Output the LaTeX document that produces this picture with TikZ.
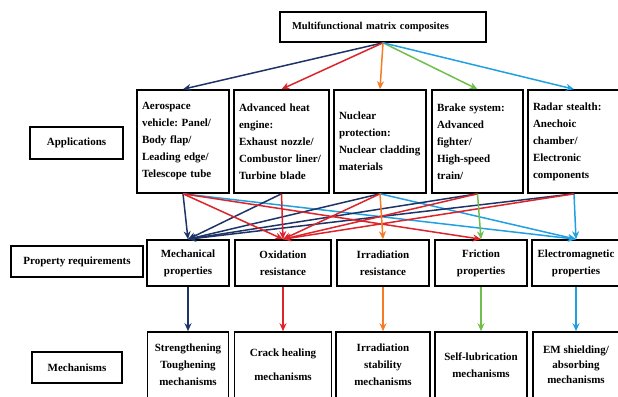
\documentclass[tikz,border=0pt]{standalone}
\usepackage{fontspec}
\setmainfont{Liberation Serif}
\usetikzlibrary{arrows.meta}
\frenchspacing

\definecolor{navyline}{RGB}{30,52,102}
\definecolor{redline}{RGB}{220,36,42}
\definecolor{orangeline}{RGB}{244,124,38}
\definecolor{greenline}{RGB}{112,190,76}
\definecolor{blueline}{RGB}{32,160,224}

\begin{document}
\begin{tikzpicture}[x=1pt, y=-1pt, >={Stealth[length=8pt,width=7pt]},
    box/.style={draw, line width=1.6pt, anchor=center, inner sep=0pt,
      font=\bfseries\fontsize{11}{17}\selectfont},
    appbox/.style={box, minimum height=103pt, align=left, inner xsep=5pt},
    propbox/.style={box, minimum height=46pt, align=center},
    mechbox/.style={box, minimum height=66pt, align=center},
    rowlabel/.style={box, minimum height=31pt, align=center},
    link/.style={->, line width=1.5pt}]
    \useasboundingbox (0,0) rectangle (618,396);

    \node (top) [box, minimum height=30pt, inner xsep=12pt, text width=182pt, align=left,
      font=\bfseries\fontsize{10.5}{13}\selectfont] at (383, 27) {Multifunctional matrix composites};

    % row labels
    \node (lapp) [rowlabel, minimum width=93pt, minimum height=32pt] at (76.5, 143) {Applications};
    \node (lprop) [rowlabel, minimum width=132pt] at (77, 261.5) {Property requirements};
    \node (lmech) [rowlabel, minimum width=90pt] at (77, 367.5) {Mechanisms};

    % applications
    \node (A1) [appbox, text width=82pt] at (183, 141.5) {Aerospace\\vehicle: Panel/\\Body flap/\\Leading edge/\\Telescope tube};
    \node (A2) [appbox, text width=85pt] at (281.5, 141.5) {Advanced heat\\engine:\\Exhaust nozzle/\\Combustor liner/\\Turbine blade};
    \node (A3) [appbox, text width=82pt] at (380, 141.5) {Nuclear\\protection:\\Nuclear cladding\\materials};
    \node (A4) [appbox, text width=81pt] at (477.5, 141.5) {Brake system:\\Advanced\\fighter/\\High-speed\\train/};
    \node (A5) [appbox, text width=82pt] at (574, 141.5) {Radar stealth:\\Anechoic\\chamber/\\Electronic\\components};

    % property requirements
    \node (P1) [propbox, minimum width=82pt] at (188, 263) {Mechanical\\properties};
    \node (P2) [propbox, minimum width=96pt] at (283, 263) {Oxidation\\resistance};
    \node (P3) [propbox, minimum width=92pt] at (383, 263) {Irradiation\\resistance};
    \node (P4) [propbox, minimum width=92pt] at (481, 263) {Friction\\properties};
    \node (P5) [propbox, minimum width=88pt] at (576, 263) {Electromagnetic\\properties};

    % mechanisms
    \node (M1) [mechbox, minimum width=81pt] at (188, 365) {Strengthening\\Toughening\\mechanisms};
    \node (M2) [mechbox, minimum width=97pt] at (283, 365) {Crack healing\\[7pt]mechanisms};
    \node (M3) [mechbox, minimum width=94pt] at (383, 365) {Irradiation\\stability\\mechanisms};
    \node (M4) [mechbox, minimum width=92pt] at (481, 365) {Self-lubrication\\mechanisms};
    \node (M5) [mechbox, minimum width=86pt] at (576, 365) {EM shielding/\\[-2pt]absorbing\\[-2pt]mechanisms};

    \draw[link,navyline] (top.south) -- (A1.north);
    \draw[link,redline] (top.south) -- (A2.north);
    \draw[link,orangeline] (top.south) -- (A3.north);
    \draw[link,greenline] (top.south) -- (A4.north);
    \draw[link,blueline] (top.south) -- (A5.north);

    \draw[link,blueline] (A1.south) -- (P5.north);
    \draw[link,blueline] (A3.south) -- (P5.north);
    \draw[link,blueline] (A5.south) -- (P5.north);
    \draw[link,navyline] (A1.south) -- (P1.north);
    \draw[link,navyline] (A2.south) -- (P1.north);
    \draw[link,navyline] (A3.south) -- (P1.north);
    \draw[link,navyline] (A4.south) -- (P1.north);
    \draw[link,navyline] (A5.south) -- (P1.north);
    \draw[link,redline] (A1.south) -- (P2.north);
    \draw[link,redline] (A1.south) -- (P4.north);
    \draw[link,redline] (A2.south) -- (P2.north);
    \draw[link,redline] (A3.south) -- (P2.north);
    \draw[link,redline] (A4.south) -- (P2.north);
    \draw[link,redline] (A5.south) -- (P2.north);
    \draw[link,orangeline] (A3.south) -- (P3.north);
    \draw[link,greenline] (A4.south) -- (P4.north);

    \draw[link,navyline] (P1) edge (M1);
    \draw[link,redline] (P2) edge (M2);
    \draw[link,orangeline] (P3) edge (M3);
    \draw[link,greenline] (P4) edge (M4);
    \draw[link,blueline] (P5) edge (M5);
\end{tikzpicture}
\end{document}
